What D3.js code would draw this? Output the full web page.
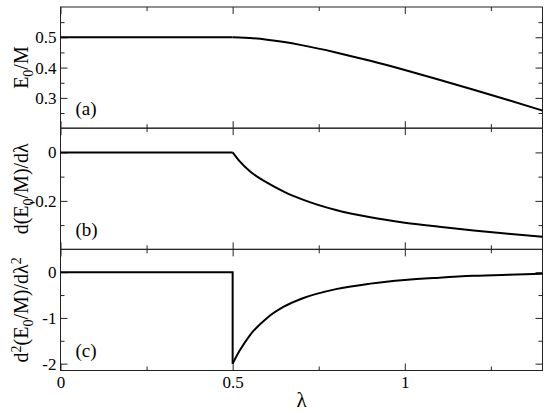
<!DOCTYPE html>
<html>
<head>
<meta charset="utf-8">
<script src="https://cdn.jsdelivr.net/npm/d3@7"></script>
<style>
  body { margin: 0; background: #fff; }
  svg text { font-family: "Liberation Serif", "Times New Roman", serif !important; fill: #000; }
</style>
</head>
<body>
<div id="chart"></div>
<script>
// values
const lambda = [0.5, 0.52, 0.55, 0.6, 0.65, 0.7, 0.8, 0.9, 1.0, 1.1, 1.2, 1.3, 1.4];
const energy = [0.5, 0.4996, 0.4978, 0.4922, 0.4841, 0.4741, 0.4501, 0.4223, 0.392, 0.36, 0.3268, 0.2928, 0.2581];
const dEnergy = [0, -0.036, -0.078, -0.125, -0.163, -0.193, -0.238, -0.268, -0.29, -0.307, -0.322, -0.336, -0.348];
const d2Energy = [-2.0, -1.72, -1.38, -1.0, -0.75, -0.58, -0.37, -0.25, -0.17, -0.12, -0.08, -0.055, -0.035];

const xMajor = [0, 0.5, 1];
const xMinor = [0.25, 0.75, 1.25];

const panels = [
  { label: "(a)", values: energy, flat: [[0, 0.5], [0.5, 0.5]], domain: [0.2, 0.6],
    major: [0.3, 0.4, 0.5], minor: [0.25, 0.35, 0.45, 0.55] },
  { label: "(b)", values: dEnergy, flat: [[0, 0], [0.5, 0]], domain: [-0.4, 0.1],
    major: [0, -0.2], minor: [-0.1, -0.3] },
  { label: "(c)", values: d2Energy, flat: [[0, 0], [0.5, 0], [0.5, -2]], domain: [-2.15, 0.5],
    major: [0, -1, -2], minor: [-0.5, -1.5] }
];

const W = 550, H = 411;
const margin = { top: 7, right: 7.5, bottom: 40.5, left: 60.5 };
const width = W - margin.left - margin.right;
const panelH = (H - margin.top - margin.bottom) / 3;
const serif = '"Liberation Serif", "Times New Roman", serif';

const svg = d3.select("#chart").append("svg")
  .attr("width", W).attr("height", H);

const g = svg.append("g")
  .attr("transform", `translate(${margin.left},${margin.top})`);

const x = d3.scaleLinear().domain([0, 1.4]).range([0, width]);
const fmt = d => String(d);

panels.forEach((p, i) => {
  const pg = g.append("g").attr("transform", `translate(0,${i * panelH})`);
  const y = d3.scaleLinear().domain(p.domain).range([panelH, 0]);

  // ticks, all pointing inward
  pg.append("g").call(d3.axisLeft(y).tickValues(p.major).tickSize(-7).tickSizeOuter(0).tickPadding(4).tickFormat(fmt));
  pg.append("g").call(d3.axisLeft(y).tickValues(p.minor).tickSize(-4).tickSizeOuter(0).tickFormat(""));
  pg.append("g").attr("transform", `translate(${width},0)`)
    .call(d3.axisRight(y).tickValues(p.major).tickSize(-7).tickSizeOuter(0).tickFormat(""));
  pg.append("g").attr("transform", `translate(${width},0)`)
    .call(d3.axisRight(y).tickValues(p.minor).tickSize(-4).tickSizeOuter(0).tickFormat(""));
  pg.append("g").call(d3.axisTop(x).tickValues(xMajor).tickSize(-7).tickSizeOuter(0).tickFormat(""));
  pg.append("g").call(d3.axisTop(x).tickValues(xMinor).tickSize(-4).tickSizeOuter(0).tickFormat(""));
  pg.append("g").attr("transform", `translate(0,${panelH})`)
    .call(d3.axisBottom(x).tickValues(xMajor).tickSize(-7).tickSizeOuter(0).tickPadding(5)
      .tickFormat(i === 2 ? fmt : ""));
  pg.append("g").attr("transform", `translate(0,${panelH})`)
    .call(d3.axisBottom(x).tickValues(xMinor).tickSize(-4).tickSizeOuter(0).tickFormat(""));

  pg.selectAll(".domain").remove();
  pg.selectAll("g").attr("font-family", serif);
  pg.selectAll(".tick line").attr("stroke", "#222");
  pg.selectAll(".tick text").attr("font-size", 17).attr("fill", "#000");

  pg.append("rect")
    .attr("width", width).attr("height", panelH)
    .attr("fill", "none").attr("stroke", "#222").attr("stroke-width", 1);

  const line = d3.line().x(d => x(d[0])).y(d => y(d[1]));
  pg.append("path")
    .attr("d", line(p.flat))
    .attr("fill", "none").attr("stroke", "#000").attr("stroke-width", 2);
  pg.append("path")
    .attr("d", line.curve(d3.curveMonotoneX)(lambda.map((l, k) => [l, p.values[k]])))
    .attr("fill", "none").attr("stroke", "#000").attr("stroke-width", 2);

  pg.append("text")
    .attr("x", 15).attr("y", panelH - 13)
    .attr("font-family", serif)
    .attr("font-size", 19)
    .text(p.label);
});

// y axis titles
function yTitle(i, build) {
  const t = svg.append("text")
    .attr("transform", `translate(28,${margin.top + (i + 0.5) * panelH}) rotate(-90)`)
    .attr("text-anchor", "middle")
    .attr("font-family", serif)
    .attr("font-size", 20);
  build(t);
}
yTitle(0, t => {
  t.append("tspan").text("E");
  t.append("tspan").attr("dy", 5).attr("font-size", 14).text("0");
  t.append("tspan").attr("dy", -5).text("/M");
});
yTitle(1, t => {
  t.append("tspan").text("d(E");
  t.append("tspan").attr("dy", 5).attr("font-size", 14).text("0");
  t.append("tspan").attr("dy", -5).text("/M)/dλ");
});
yTitle(2, t => {
  t.append("tspan").text("d");
  t.append("tspan").attr("dy", -7).attr("font-size", 14).text("2");
  t.append("tspan").attr("dy", 7).text("(E");
  t.append("tspan").attr("dy", 5).attr("font-size", 14).text("0");
  t.append("tspan").attr("dy", -5).text("/M)/dλ");
  t.append("tspan").attr("dy", -7).attr("font-size", 14).text("2");
});

svg.append("text")
  .attr("x", margin.left + x(0.7)).attr("y", 407)
  .attr("text-anchor", "middle")
  .attr("font-family", serif)
  .attr("font-size", 21)
  .text("λ");
</script>
</body>
</html>
